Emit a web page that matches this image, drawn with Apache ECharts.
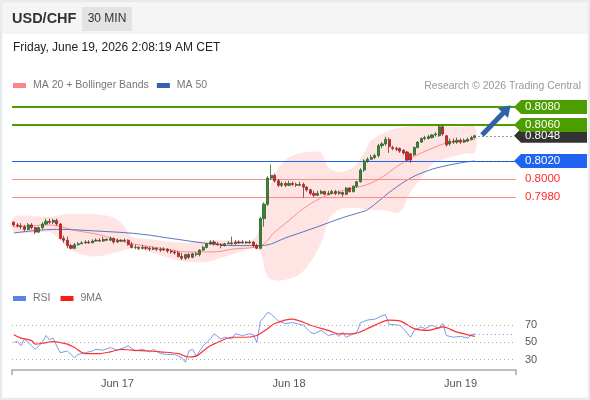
<!DOCTYPE html>
<html>
<head>
<meta charset="utf-8">
<title>USD/CHF 30 MIN</title>
<script src="https://cdn.jsdelivr.net/npm/echarts@6/dist/echarts.min.js"></script>
<style>
html, body { margin: 0; padding: 0; background: #fff; }
#chart { width: 590px; height: 400px; }
</style>
</head>
<body>
<div id="chart"></div>
<script>
// 30 minute bars, [open, close, low, high]
var candles = [
	[0.7952,0.7949,0.7947,0.7953],[0.7949,0.7948,0.7946,0.7951],[0.7948,0.7947,0.7944,0.7951],[0.7947,0.7944,0.7942,0.7949],
	[0.7944,0.7949,0.7943,0.7951],[0.7949,0.7946,0.7944,0.7951],[0.7946,0.7941,0.7939,0.7947],[0.7941,0.7946,0.7940,0.7947],
	[0.7946,0.7950,0.7944,0.7952],[0.7950,0.7953,0.7949,0.7956],[0.7953,0.7952,0.7950,0.7956],[0.7952,0.7954,0.7950,0.7956],
	[0.7954,0.7950,0.7948,0.7956],[0.7950,0.7934,0.7933,0.7951],[0.7934,0.7932,0.7929,0.7937],[0.7932,0.7926,0.7923,0.7936],
	[0.7926,0.7923,0.7922,0.7928],[0.7923,0.7927,0.7922,0.7929],[0.7927,0.7928,0.7926,0.7930],[0.7928,0.7929,0.7928,0.7931],
	[0.7929,0.7930,0.7928,0.7932],[0.7930,0.7929,0.7928,0.7932],[0.7929,0.7931,0.7929,0.7933],[0.7931,0.7932,0.7930,0.7934],
	[0.7932,0.7931,0.7930,0.7934],[0.7931,0.7933,0.7930,0.7936],[0.7933,0.7932,0.7931,0.7934],[0.7932,0.7934,0.7931,0.7936],
	[0.7934,0.7930,0.7928,0.7935],[0.7930,0.7932,0.7929,0.7934],[0.7932,0.7931,0.7930,0.7933],[0.7931,0.7932,0.7930,0.7934],
	[0.7932,0.7927,0.7926,0.7933],[0.7927,0.7924,0.7923,0.7930],[0.7924,0.7924,0.7922,0.7927],[0.7924,0.7923,0.7921,0.7925],
	[0.7923,0.7924,0.7922,0.7927],[0.7924,0.7923,0.7921,0.7925],[0.7923,0.7922,0.7920,0.7925],[0.7922,0.7923,0.7921,0.7925],
	[0.7923,0.7922,0.7920,0.7924],[0.7922,0.7921,0.7919,0.7924],[0.7921,0.7922,0.7920,0.7924],[0.7922,0.7920,0.7918,0.7923],
	[0.7920,0.7919,0.7917,0.7922],[0.7919,0.7918,0.7916,0.7921],[0.7918,0.7914,0.7913,0.7920],[0.7914,0.7912,0.7910,0.7918],
	[0.7912,0.7916,0.7910,0.7917],[0.7916,0.7913,0.7911,0.7918],[0.7913,0.7917,0.7912,0.7918],[0.7917,0.7916,0.7914,0.7919],
	[0.7916,0.7921,0.7914,0.7922],[0.7921,0.7924,0.7920,0.7926],[0.7924,0.7928,0.7923,0.7929],[0.7928,0.7930,0.7927,0.7932],
	[0.7930,0.7928,0.7926,0.7932],[0.7928,0.7927,0.7926,0.7930],[0.7927,0.7926,0.7923,0.7929],[0.7926,0.7928,0.7925,0.7929],
	[0.7928,0.7929,0.7928,0.7931],[0.7929,0.7928,0.7927,0.7936],[0.7928,0.7930,0.7927,0.7932],[0.7930,0.7929,0.7928,0.7932],
	[0.7929,0.7930,0.7928,0.7932],[0.7930,0.7929,0.7928,0.7931],[0.7929,0.7930,0.7928,0.7932],[0.7930,0.7926,0.7924,0.7931],
	[0.7926,0.7923,0.7922,0.7928],[0.7923,0.7956,0.7922,0.7958],[0.7956,0.7972,0.7947,0.7974],[0.7972,0.8001,0.7970,0.8003],
	[0.8001,0.8004,0.7999,0.8016],[0.8004,0.7998,0.7996,0.8006],[0.7998,0.7993,0.7991,0.8000],[0.7993,0.7995,0.7991,0.7997],
	[0.7995,0.7993,0.7991,0.7997],[0.7993,0.7995,0.7992,0.7998],[0.7995,0.7994,0.7992,0.7997],[0.7994,0.7993,0.7991,0.7996],
	[0.7993,0.7994,0.7992,0.7997],[0.7994,0.7991,0.7979,0.7996],[0.7991,0.7988,0.7986,0.7992],[0.7988,0.7984,0.7982,0.7989],
	[0.7984,0.7982,0.7980,0.7987],[0.7982,0.7984,0.7981,0.7987],[0.7984,0.7986,0.7983,0.7988],[0.7986,0.7983,0.7982,0.7987],
	[0.7983,0.7984,0.7982,0.7987],[0.7984,0.7986,0.7983,0.7988],[0.7986,0.7984,0.7982,0.7988],[0.7984,0.7985,0.7982,0.7987],
	[0.7985,0.7983,0.7980,0.7986],[0.7983,0.7990,0.7982,0.7991],[0.7990,0.7986,0.7985,0.7991],[0.7986,0.7992,0.7985,0.7993],
	[0.7992,0.7997,0.7990,0.7998],[0.7997,0.8010,0.7996,0.8012],[0.8010,0.8020,0.8008,0.8022],[0.8020,0.8022,0.8018,0.8024],
	[0.8022,0.8024,0.8021,0.8027],[0.8024,0.8026,0.8022,0.8028],[0.8026,0.8037,0.8024,0.8039],[0.8037,0.8039,0.8034,0.8041],
	[0.8039,0.8044,0.8037,0.8047],[0.8044,0.8036,0.8029,0.8046],[0.8035,0.8034,0.8032,0.8037],[0.8034,0.8033,0.8031,0.8036],
	[0.8034,0.8031,0.8029,0.8035],[0.8032,0.8029,0.8027,0.8033],[0.8030,0.8021,0.8020,0.8031],[0.8028,0.8021,0.8018,0.8029],
	[0.8027,0.8035,0.8026,0.8036],[0.8035,0.8041,0.8034,0.8042],[0.8041,0.8045,0.8040,0.8046],[0.8045,0.8046,0.8043,0.8048],
	[0.8045,0.8047,0.8044,0.8049],[0.8046,0.8049,0.8045,0.8050],[0.8049,0.8050,0.8047,0.8052],[0.8048,0.8058,0.8047,0.8060],
	[0.8058,0.8050,0.8048,0.8060],[0.8048,0.8038,0.8036,0.8049],[0.8039,0.8042,0.8037,0.8045],[0.8042,0.8041,0.8039,0.8045],
	[0.8041,0.8043,0.8039,0.8046],[0.8043,0.8041,0.8039,0.8045],[0.8041,0.8043,0.8040,0.8045],[0.8042,0.8044,0.8041,0.8046],
	[0.8044,0.8046,0.8043,0.8048],[0.8046,0.8048,0.8045,0.8049]
];

// indicator readings, [bar index, value]
var ma20 = [[0,0.7947],[5,0.7948],[10,0.7949],[17,0.7943],[24,0.7938],[32,0.7929],[43,0.7922],[48,0.7919],[56,0.7919],
	[61,0.7922],[69,0.7926],[73,0.7941],[77,0.7954],[81,0.7967],[86,0.7979],[91,0.7986],[95,0.7990],[99,0.7994],
	[103,0.8002],[108,0.8016],[113,0.8027],[117,0.8034],[121,0.8040],[125,0.8042],[129,0.8044]];
var ma50 = [[0,0.7940],[12,0.7944],[24,0.7942],[35,0.7939],[44,0.7934],[55,0.7928],[62,0.7926],[69,0.7926],[77,0.7936],
	[85,0.7947],[92,0.7957],[97,0.7963],[99,0.7966],[106,0.7988],[111,0.8001],[115,0.8008],[118,0.8012],[125,0.8018],[129,0.8020]];
var bbUpper = [[0,0.7958],[10,0.7958],[15,0.7961],[22,0.7961],[28,0.7957],[31,0.7947],[33,0.7936],[38,0.7933],[48,0.7929],
	[54,0.7932],[60,0.7932],[67,0.7933],[69,0.7949],[70,0.7966],[72,0.7995],[74,0.8012],[77,0.8024],[82,0.8030],[86,0.8029],
	[88,0.8013],[91,0.8008],[95,0.8013],[98,0.8029],[100,0.8043],[105,0.8054],[108,0.8057],[116,0.8060],[124,0.8058],[129,0.8058]];
var bbLower = [[0,0.7941],[5,0.7940],[10,0.7941],[13,0.7932],[17,0.7919],[23,0.7914],[29,0.7919],[33,0.7923],[38,0.7919],
	[43,0.7913],[48,0.7908],[54,0.7908],[61,0.7916],[67,0.7923],[69,0.7919],[71,0.7891],[74,0.7887],[79,0.7892],[82,0.7902],
	[86,0.7929],[88,0.7954],[91,0.7966],[95,0.7968],[99,0.7966],[104,0.7965],[108,0.7963],[111,0.7986],[114,0.8001],
	[117,0.8016],[121,0.8023],[126,0.8028],[129,0.8030]];
var rsi = [[0,50],[1,51],[2,46],[3,54],[4,50],[6,42],[8,50],[9,58],[10,53],[11,55],[12,46],[13,38],[15,40],[17,32],[18,36],
	[20,38],[22,40],[23,42],[25,41],[27,44],[29,41],[31,44],[32,46],[34,40],[36,42],[38,39],[39,42],[41,37],[43,36],[45,36],
	[47,32],[48,27],[49,40],[50,42],[51,34],[53,46],[55,54],[56,60],[58,54],[59,56],[61,54],[62,60],[64,58],[66,60],[67,59],
	[68,50],[69,75],[70,79],[71,85],[72,83],[74,75],[76,72],[78,73],[80,71],[81,70],[83,62],[84,60],[86,64],[88,58],[90,60],
	[91,57],[92,62],[93,56],[96,62],[97,73],[99,76],[101,77],[103,81],[104,82],[105,71],[108,70],[109,66],[111,56],[112,64],
	[114,68],[115,66],[117,70],[119,66],[120,72],[121,58],[123,56],[125,57],[127,55],[128,59],[129,60]];
var rsiMa = [[0,59],[2,55],[5,52],[6,48],[8,49],[11,51],[15,48],[17,44],[20,37],[24,37],[27,39],[30,42],[33,41],[38,40],
	[41,39],[46,37],[49,33],[51,34],[53,40],[55,46],[57,50],[61,56],[65,56],[68,58],[71,66],[73,72],[78,77],[80,75],[83,70],
	[88,64],[91,60],[95,60],[100,68],[105,76],[108,75],[112,66],[116,64],[120,68],[124,62],[129,57]];
var rsiLevels = [70, 50, 30];

// key levels on the right
var resistances = [0.8080, 0.8060];
var pivot = 0.8020;
var supports = [0.8000, 0.7980];
var lastPrice = 0.8048;
var lastRsi = 60;
var arrowFrom = [131, 0.8049];
var arrowTo = [139, 0.8082];

// time axis: first bar Jun 16 09:30, room left for 11 empty slots
var firstBar = Date.UTC(2026, 5, 16, 9, 30);
var slotCount = 141;
var times = [];
for (var i = 0; i < slotCount; i++) {
	times.push(new Date(firstBar + i * 1800000).toISOString().slice(0, 16).replace('T', ' '));
}
var lastBar = candles.length - 1;
var lastMa50 = ma50[ma50.length - 1][1];

var FONT = "'Liberation Sans', Arial, sans-serif";
var green = '#4c9e00', navy = '#1f63f0', red = '#ff2a2a';

var chart = echarts.init(document.getElementById('chart'));

function dayLabel(value) {
	return 'Jun ' + Number(value.slice(8, 10));
}

var levelLines = resistances.map(function (v) {
	return { yAxis: v, lineStyle: { color: green, width: 2, type: 'solid' } };
}).concat([{ yAxis: pivot, lineStyle: { color: navy, width: 1.2, type: 'solid' } }])
	.concat(supports.map(function (v) {
		return { yAxis: v, lineStyle: { color: '#ff8a8a', width: 1, type: 'solid' } };
	}))
	.concat([
		[{ coord: [lastBar + 1, lastPrice] }, { coord: [slotCount - 1, lastPrice], lineStyle: { color: '#333', width: 1, type: [1, 3] } }],
		[{ coord: [lastBar + 1, lastMa50] }, { coord: [slotCount - 1, lastMa50], lineStyle: { color: '#334', width: 1, type: [1, 3] } }]
	]);

chart.setOption({
	animation: false,
	backgroundColor: '#fff',
	textStyle: { fontFamily: FONT },
	legend: [{
		left: 13, top: 80, padding: 0, itemWidth: 13, itemHeight: 5, itemGap: 8, icon: 'rect',
		selectedMode: false,
		textStyle: { color: '#777', fontSize: 10.5, padding: [0, 0, 0, 2] },
		data: ['MA 20 + Bollinger Bands', 'MA 50']
	}, {
		left: 13, top: 293, padding: 0, itemWidth: 13, itemHeight: 5, itemGap: 10, icon: 'rect',
		selectedMode: false,
		textStyle: { color: '#777', fontSize: 10.5, padding: [0, 0, 0, 2] },
		data: ['RSI', '9MA']
	}],
	grid: [
		{ left: 12, width: 504, top: 89, height: 198 },
		{ left: 12, width: 504, top: 308, height: 62 }
	],
	xAxis: [{
		type: 'category', gridIndex: 0, data: times, boundaryGap: true,
		axisLine: { show: false }, axisTick: { show: false }, axisLabel: { show: false }, splitLine: { show: false }
	}, {
		type: 'category', gridIndex: 1, data: times, boundaryGap: true,
		axisLine: { show: false }, axisTick: { show: false }, splitLine: { show: false },
		axisLabel: {
			color: '#555', fontSize: 11, margin: 8,
			interval: function (index, value) { return value.slice(11) === '00:00'; },
			formatter: dayLabel
		}
	}, {
		type: 'value', gridIndex: 1, position: 'bottom', min: 0, max: 1, interval: 1,
		axisLine: { show: true, lineStyle: { color: '#aaa', width: 1.5 } },
		axisTick: { show: true, length: 5, lineStyle: { color: '#aaa', width: 1.5 } },
		axisLabel: { show: false }, splitLine: { show: false }
	}],
	yAxis: [{
		type: 'value', gridIndex: 0, min: 0.7880, max: 0.8100, show: false
	}, {
		type: 'value', gridIndex: 1, min: 17.9, max: 90, position: 'right',
		axisLine: { show: false }, axisTick: { show: false }, splitLine: { show: false },
		axisLabel: { color: '#555', fontSize: 11, margin: 9, customValues: rsiLevels }
	}],
	series: [{
		name: 'Bollinger', type: 'custom', xAxisIndex: 0, yAxisIndex: 0, z: 1, silent: true,
		data: [0],
		renderItem: function (params, api) {
			var pts = bbUpper.map(function (p) { return api.coord(p); })
				.concat(bbLower.slice().reverse().map(function (p) { return api.coord(p); }));
			return { type: 'polygon', shape: { points: pts, smooth: 0.3 }, style: { fill: 'rgba(255,190,190,0.42)' } };
		}
	}, {
		name: 'MA 20 + Bollinger Bands', type: 'line', xAxisIndex: 0, yAxisIndex: 0, z: 3,
		data: ma20, smooth: 0.4, symbol: 'none', color: '#ff8585',
		lineStyle: { color: '#ff8c8c', width: 1 }
	}, {
		name: 'MA 50', type: 'line', xAxisIndex: 0, yAxisIndex: 0, z: 3,
		data: ma50, smooth: 0.4, symbol: 'none', color: '#3563ad',
		lineStyle: { color: '#5577bb', width: 1 },
		markLine: { symbol: 'none', silent: true, precision: 4, label: { show: false }, data: levelLines }
	}, {
		name: 'USD/CHF', type: 'candlestick', xAxisIndex: 0, yAxisIndex: 0, z: 5,
		data: candles, barWidth: 2.6,
		itemStyle: { color: '#2f8a2f', color0: '#dd2323', borderColor: '#2b5f2b', borderColor0: '#8a2a2a', borderWidth: 0.8 }
	}, {
		name: 'RSI', type: 'line', xAxisIndex: 1, yAxisIndex: 1, z: 3,
		data: rsi, symbol: 'none', color: '#5a85e6',
		lineStyle: { color: '#7b9bea', width: 1 },
		markLine: {
			symbol: 'none', silent: true, label: { show: false },
			data: rsiLevels.map(function (v) {
				return { yAxis: v, lineStyle: { color: '#aaa', width: 1, type: [1, 3] } };
			}).concat([
				[{ coord: [lastBar, lastRsi] }, { coord: [slotCount - 1, lastRsi], lineStyle: { color: '#7b9bea', width: 1, type: [1, 3] } }]
			])
		}
	}, {
		name: '9MA', type: 'line', xAxisIndex: 1, yAxisIndex: 1, z: 4,
		data: rsiMa, smooth: 0.3, symbol: 'none', color: '#ff1a1a',
		lineStyle: { color: '#ff3030', width: 1.2 }
	}],
	graphic: [
		{ id: 'head', type: 'rect', shape: { x: 0, y: 0, width: 590, height: 34 }, style: { fill: '#f5f5f5' } },
		{ id: 'frame', type: 'rect', shape: { x: 1, y: 1, width: 588, height: 398 }, style: { fill: 'none', stroke: '#e8ebee', lineWidth: 2.5 } },
		{ id: 'tfBox', type: 'rect', shape: { x: 82, y: 7, width: 50, height: 24 }, style: { fill: '#e3e3e3' } },
		{ id: 'pair', type: 'text', x: 12, y: 19, style: { text: 'USD/CHF', fill: '#333', font: 'bold 14.5px ' + FONT, verticalAlign: 'middle' } },
		{ id: 'tf', type: 'text', x: 107, y: 19, style: { text: '30 MIN', fill: '#333', font: '12px ' + FONT, align: 'center', verticalAlign: 'middle' } },
		{ id: 'date', type: 'text', x: 13, y: 48, style: { text: 'Friday, June 19, 2026 2:08:19 AM CET', fill: '#222', font: '12px ' + FONT, verticalAlign: 'middle' } },
		{ id: 'credit', type: 'text', x: 581, y: 86, style: { text: 'Research \u00a9 2026 Trading Central', fill: '#999', font: '10.5px ' + FONT, align: 'right', verticalAlign: 'middle' } }
	]
});

/**
 * 右侧价格标签与箭头
 */
function priceY(v) {
	return chart.convertToPixel({ gridIndex: 0 }, [0, v])[1];
}

var tagLeft = 516;
var tags = [
	{ value: lastPrice, bg: '#333333' },
	{ value: resistances[1], bg: green },
	{ value: resistances[0], bg: green },
	{ value: pivot, bg: navy }
];
var extra = [];
tags.forEach(function (t, k) {
	var y = priceY(t.value);
	extra.push({
		id: 'tagBox' + k, type: 'polygon', z: 100,
		shape: { points: [[tagLeft - 2, y], [tagLeft + 5, y - 7], [587, y - 7], [587, y + 7], [tagLeft + 5, y + 7]] },
		style: { fill: t.bg }
	});
	extra.push({
		id: 'tagText' + k, type: 'text', z: 101, x: tagLeft + 9, y: y,
		style: { text: t.value.toFixed(4), fill: '#fff', font: '11.5px ' + FONT, verticalAlign: 'middle' }
	});
});
supports.forEach(function (v, k) {
	extra.push({
		id: 'supText' + k, type: 'text', z: 101, x: tagLeft + 9, y: priceY(v),
		style: { text: v.toFixed(4), fill: red, font: '11.5px ' + FONT, verticalAlign: 'middle' }
	});
});

var a0 = chart.convertToPixel({ gridIndex: 0 }, arrowFrom);
var a1 = chart.convertToPixel({ gridIndex: 0 }, arrowTo);
var dx = a1[0] - a0[0], dy = a1[1] - a0[1];
var len = Math.sqrt(dx * dx + dy * dy);
var ux = dx / len, uy = dy / len;
var headLen = 11, headHalf = 7;
var bx = a1[0] - ux * headLen, by = a1[1] - uy * headLen;
extra.push({
	id: 'arrowShaft', type: 'line', z: 102,
	shape: { x1: a0[0], y1: a0[1], x2: bx + ux, y2: by + uy },
	style: { stroke: '#2f62a6', lineWidth: 5 }
});
extra.push({
	id: 'arrowHead', type: 'polygon', z: 102,
	shape: { points: [[a1[0], a1[1]], [bx - uy * headHalf, by + ux * headHalf], [bx + uy * headHalf, by - ux * headHalf]] },
	style: { fill: '#2f62a6' }
});

chart.setOption({ graphic: extra });
</script>
</body>
</html>
